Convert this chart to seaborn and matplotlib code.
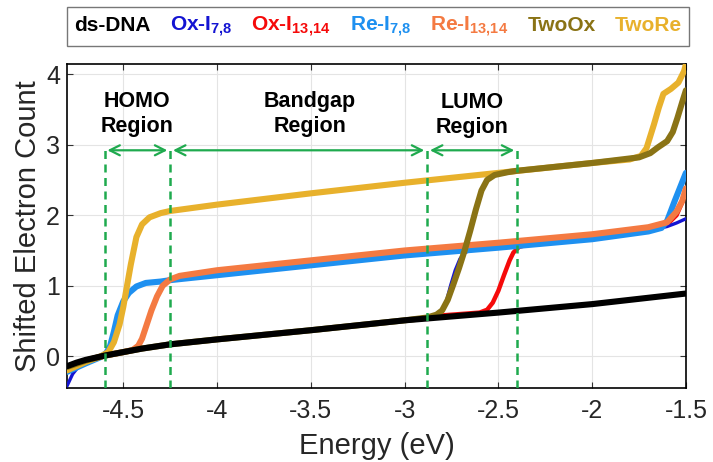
import matplotlib
matplotlib.use("Agg")
import matplotlib.pyplot as plt
import seaborn as sns
import pandas as pd

# ---- data: shifted electron count vs energy (eV) ----
dna_E = [-4.8, -4.75, -4.7, -4.65, -4.6, -4.5, -4.4, -4.25, -4.0, -3.5, -3.0, -2.5, -2.0, -1.5]
dna_N = [-0.14, -0.09, -0.05, -0.02, 0.01, 0.06, 0.11, 0.17, 0.24, 0.37, 0.51, 0.62, 0.74, 0.89]

ox78_E = [-4.8, -4.77, -4.74, -4.7, -4.65, -4.6, -4.5, -4.4, -4.25, -4.0, -3.5, -3.0,
          -2.85, -2.81, -2.78, -2.755, -2.73, -2.705, -2.68, -2.65, -2.6, -2.4, -2.0,
          -1.7, -1.6, -1.55, -1.5]
ox78_N = [-0.42, -0.25, -0.15, -0.07, -0.02, 0.01, 0.06, 0.11, 0.17, 0.24, 0.37, 0.51,
          0.55, 0.6, 0.75, 1.0, 1.22, 1.38, 1.47, 1.5, 1.52, 1.57, 1.67,
          1.78, 1.84, 1.89, 1.95]

ox1314_E = [-4.8, -4.7, -4.6, -4.5, -4.4, -4.25, -4.0, -3.5, -3.0, -2.8, -2.6, -2.56,
            -2.53, -2.5, -2.47, -2.44, -2.42, -2.39, -2.35, -2.0, -1.7, -1.6, -1.55, -1.5]
ox1314_N = [-0.14, -0.05, 0.01, 0.06, 0.11, 0.17, 0.24, 0.37, 0.51, 0.58, 0.62, 0.66,
            0.76, 0.93, 1.15, 1.36, 1.47, 1.55, 1.58, 1.69, 1.8, 1.87, 2.0, 2.3]

re78_E = [-4.8, -4.7, -4.62, -4.59, -4.57, -4.55, -4.53, -4.5, -4.47, -4.43, -4.38,
          -4.3, -4.25, -4.0, -3.5, -3.0, -2.5, -2.0, -1.7, -1.63, -1.6, -1.56, -1.53, -1.5]
re78_N = [-0.22, -0.1, -0.01, 0.05, 0.15, 0.35, 0.58, 0.78, 0.9, 0.99, 1.04,
          1.06, 1.08, 1.15, 1.29, 1.43, 1.54, 1.66, 1.77, 1.82, 1.92, 2.2, 2.4, 2.6]

re1314_E = [-4.8, -4.7, -4.6, -4.5, -4.45, -4.42, -4.4, -4.375, -4.35, -4.32, -4.29,
            -4.25, -4.2, -4.0, -3.5, -3.0, -2.5, -2.0, -1.7, -1.6, -1.55, -1.52, -1.5]
re1314_N = [-0.16, -0.06, 0.01, 0.06, 0.09, 0.15, 0.25, 0.45, 0.65, 0.85, 1.0,
            1.09, 1.14, 1.22, 1.36, 1.5, 1.61, 1.73, 1.83, 1.9, 2.05, 2.2, 2.38]

twoox_E = [-4.8, -4.7, -4.6, -4.5, -4.4, -4.25, -4.0, -3.5, -3.0, -2.88, -2.83, -2.8,
           -2.77, -2.74, -2.71, -2.68, -2.65, -2.62, -2.59, -2.56, -2.52, -2.45, -2.4,
           -2.0, -1.75, -1.69, -1.65, -1.6, -1.57, -1.545, -1.52, -1.5]
twoox_N = [-0.15, -0.06, 0.01, 0.06, 0.11, 0.17, 0.24, 0.37, 0.51, 0.55, 0.59, 0.65,
           0.8, 1.02, 1.25, 1.5, 1.78, 2.08, 2.35, 2.5, 2.57, 2.61, 2.63,
           2.74, 2.82, 2.88, 2.96, 3.05, 3.18, 3.38, 3.6, 3.77]

twore_E = [-4.8, -4.7, -4.62, -4.58, -4.55, -4.52, -4.5, -4.48, -4.46, -4.43, -4.4,
           -4.36, -4.3, -4.25, -4.0, -3.5, -3.0, -2.5, -2.0, -1.8, -1.74, -1.71, -1.67,
           -1.645, -1.62, -1.58, -1.54, -1.51, -1.5]
twore_N = [-0.2, -0.08, 0.0, 0.06, 0.2, 0.45, 0.7, 1.0, 1.3, 1.69, 1.87,
           1.97, 2.03, 2.06, 2.15, 2.31, 2.46, 2.6, 2.74, 2.79, 2.84, 2.95, 3.29,
           3.52, 3.72, 3.79, 3.88, 4.04, 4.14]

# region boundaries (eV)
homo_lo, homo_hi, lumo_lo, lumo_hi = -4.6, -4.25, -2.88, -2.4

series = [
    # label, E, N, color, linewidth, zorder
    ("ds-DNA", dna_E, dna_N, "#000000", 4.4, 9),
    ("Ox-I$_{7{,}8}$", ox78_E, ox78_N, "#1414D2", 2.4, 3),
    ("Ox-I$_{13{,}14}$", ox1314_E, ox1314_N, "#F50A0A", 3.2, 2),
    ("Re-I$_{7{,}8}$", re78_E, re78_N, "#1E90F0", 4.4, 4),
    ("Re-I$_{13{,}14}$", re1314_E, re1314_N, "#F47A42", 4.4, 5),
    ("TwoOx", twoox_E, twoox_N, "#8A7315", 4.4, 7),
    ("TwoRe", twore_E, twore_N, "#E8B12C", 4.4, 6),
]

sns.set_theme(style="ticks")
plt.rcParams["font.family"] = ["Liberation Sans", "DejaVu Sans"]
plt.rcParams["mathtext.fontset"] = "custom"
plt.rcParams["mathtext.rm"] = "Liberation Sans:bold"
plt.rcParams["mathtext.bf"] = "Liberation Sans:bold"
plt.rcParams["mathtext.default"] = "bf"

fig = plt.figure(figsize=(7.13, 4.62), dpi=100)
ax = fig.add_axes([0.094, 0.160, 0.868, 0.701])

for label, E, N, color, lw, z in series:
    df = pd.DataFrame({"Energy": E, "N": N})
    sns.lineplot(data=df, x="Energy", y="N", color=color, lw=lw, zorder=z,
                 label=label, ax=ax, estimator=None, sort=False,
                 solid_capstyle="round")

ax.set_xlim(-4.8, -1.5)
ax.set_ylim(-0.45, 4.14)
ax.set_xticks([-4.5, -4, -3.5, -3, -2.5, -2, -1.5])
ax.set_xticklabels(["-4.5", "-4", "-3.5", "-3", "-2.5", "-2", "-1.5"])
ax.set_yticks([0, 1, 2, 3, 4])
ax.grid(True, color="#e4e4e4", lw=0.8, zorder=0)
ax.set_axisbelow(True)
ax.tick_params(direction="in", top=True, right=True, length=4, width=0.8,
               color="#333333", labelsize=18, labelcolor="#262626")
ax.tick_params(axis="x", pad=8)
ax.tick_params(axis="y", pad=5)
for s in ax.spines.values():
    s.set_color("black")
    s.set_linewidth(1.2)
ax.set_xlabel("Energy (eV)", fontsize=21, color="#262626", labelpad=6)
ax.set_ylabel("Shifted Electron Count", fontsize=21, color="#262626", labelpad=3)

# region markers
green = "#1FAA4E"
arrow_y = 2.92
ax.vlines([homo_lo, homo_hi, lumo_lo, lumo_hi], -0.45, 2.99, colors=green,
          linestyles=(0, (3.2, 2.2)), lw=1.8, zorder=10)
for a, b in [(homo_lo, homo_hi), (homo_hi, lumo_lo), (lumo_lo, lumo_hi)]:
    ax.annotate("", xy=(b - 0.015, arrow_y), xytext=(a + 0.015, arrow_y),
                arrowprops=dict(arrowstyle="<->,head_length=0.6,head_width=0.3",
                                color=green, lw=1.6, shrinkA=0, shrinkB=0),
                zorder=10)

txt_kw = dict(ha="center", va="center", fontsize=15.5, fontweight="bold",
              linespacing=1.25, color="black", zorder=11)
ax.text((homo_lo + homo_hi) / 2, 3.44, "HOMO\nRegion", **txt_kw)
ax.text(-3.505, 3.44, "Bandgap\nRegion", **txt_kw)
ax.text((lumo_lo + lumo_hi) / 2, 3.42, "LUMO\nRegion", **txt_kw)

# legend of coloured names across the top
handles, labels = ax.get_legend_handles_labels()
leg = ax.legend(handles, labels, ncol=7, loc="lower left",
                bbox_to_anchor=(0.0, 1.056, 1.005, 0.114), mode="expand",
                borderaxespad=0, handlelength=0, handletextpad=0,
                fancybox=False, frameon=True, edgecolor="#555555",
                prop={"weight": "bold", "size": 15}, borderpad=0.35)
leg.get_frame().set_linewidth(1.0)
for t, h in zip(leg.get_texts(), leg.legend_handles):
    t.set_color(h.get_color())
    h.set_visible(False)

fig.savefig("out.png", dpi=100)
